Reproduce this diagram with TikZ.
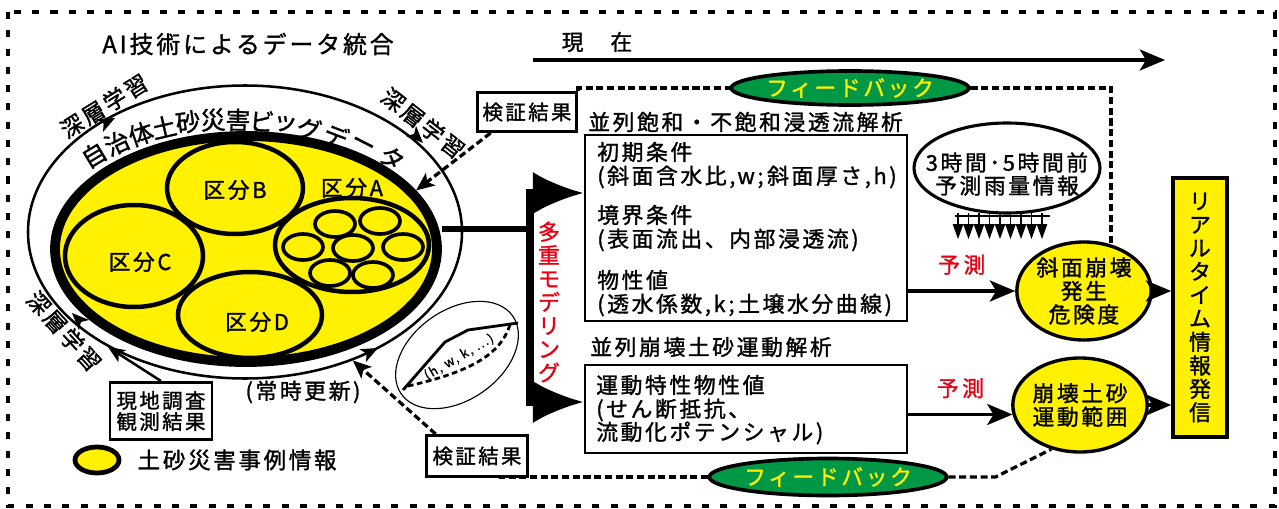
\documentclass[tikz,border=0pt]{standalone}
\usepackage{fontspec}
\setmainfont{Noto Sans CJK JP}[LetterSpace=12, FakeBold=1.3]
\usepackage{tikz}
\usetikzlibrary{shapes.geometric,arrows.meta,positioning,calc}

\definecolor{zoneyellow}{RGB}{255,241,0}
\definecolor{fbgreen}{RGB}{0,152,68}
\definecolor{modelred}{RGB}{230,0,18}

\newcommand{\fsz}[1]{\fontsize{#1}{#1}\selectfont}

\begin{document}
\begin{tikzpicture}[x=0.25mm,y=-0.25mm,
    zone/.style={ellipse, draw, fill=zoneyellow, line width=3.2pt, inner sep=0pt},
    cell/.style={ellipse, draw, fill=zoneyellow, line width=2.6pt, inner sep=0pt,
      minimum width=10mm, minimum height=6.5mm},
    plainbox/.style={draw, line width=2.1pt, fill=white, inner sep=0pt, align=center},
    result/.style={ellipse, draw, fill=zoneyellow, line width=2.4pt, inner sep=0pt,
      align=center, font=\fontsize{15.5}{16.7}\selectfont},
    fbnode/.style={ellipse, draw, fill=fbgreen, text=zoneyellow, line width=2.6pt,
      inner sep=0pt, font=\fsz{15.5}},
    txt/.style={anchor=west, inner sep=0pt, font=\fsz{15.5}},
    fbline/.style={line width=2.3pt, dash pattern=on 5pt off 2.6pt},
    arr/.style={line width=2.2pt, -{Stealth[length=18pt,width=15pt,inset=4.5pt]}},
    dasharr/.style={fbline, -{Stealth[length=13pt,width=11pt,inset=3pt]}},
    bigarr/.style={line width=4pt, -{Latex[length=36pt,width=30pt]}},
    ringtip/.style={line width=1.6pt, -{Stealth[length=12pt,width=10pt,inset=3pt]}},
  ]
  \useasboundingbox (0,0) rectangle (1279,509);
  \draw[line width=2.8pt, dash pattern=on 5pt off 8pt] (8,12) rectangle (1275,506);

  % AI data integration
  \node[font=\fsz{17}] (title) at (248,44) {AI技術によるデータ統合};
  \node[ellipse, draw, line width=1.8pt, inner sep=0pt,
    minimum width=108.5mm, minimum height=73.25mm] (outer) at (245,232) {};
  \node[ellipse, fill=zoneyellow, inner sep=0pt,
    minimum width=95.5mm, minimum height=56.5mm] (bigdata) at (246,249) {};
  \node[zone, minimum width=34.5mm, minimum height=25.5mm] (zoneC) at (134,256) {};
  \node[zone, minimum width=34mm, minimum height=23mm] (zoneB) at (235,188) {};
  \node[zone, minimum width=36mm, minimum height=21.5mm] (zoneD) at (250,315) {};
  \node[zone, minimum width=38.5mm, minimum height=23.5mm] (zoneA) at (352,245) {};
  \node[ellipse, draw, line width=7pt, inner sep=0pt,
    minimum width=95.5mm, minimum height=56.5mm] (rim) at (bigdata) {};
  \foreach \x/\y [count=\i] in {335/224,380/221,303/247,353/248,403/247,330/273,373/275}
    \node[cell] (cell\i) at (\x,\y) {};

  \node[font=\fsz{15.5}] (labA) at (352,188) {区分A};
  \node[font=\fsz{15.5}] (labB) at (235,190) {区分B};
  \node[font=\fsz{15.5}] (labC) at (140,262) {区分C};
  \node[font=\fsz{15.5}] (labD) at (257,322) {区分D};

  % text along the rim
  \foreach \x/\y/\r/\c [count=\i] in {94/155/31/自,117/143/25/治,141/134/19/体,
      164/127/13/土,188/122/8/砂,213/120/3/災,238/120/-1/害,262/121/-5/ビ,
      285/124/-10/ッ,309/129/-15/グ,336/136/-21/デ,362/146/-27/ー,392/158/-34/タ}
    \node[rotate=\r, inner sep=0pt, font=\fsz{17.5}] (arc\i) at (\x,\y) {\c};

  % learning loop
  \draw[ringtip] (111,120) -- (115,118);
  \draw[ringtip] (420,140) -- (423,143);
  \draw[ringtip] (75,316) -- (72,313);
  \draw[ringtip] (374,350) -- (378,348);
  \node[rotate=32, font=\fsz{16}] (learn1) at (104,106) {深層学習};
  \node[rotate=-38, font=\fsz{16}] (learn2) at (423,123) {深層学習};
  \node[rotate=-48, font=\fsz{16}] (learn3) at (64,331) {深層学習};

  \node[plainbox, minimum width=25.5mm, minimum height=14.25mm,
    font=\fontsize{14.5}{15}\selectfont] (field) at (161,411) {現地調査\\観測結果};
  \draw[ringtip, line width=1.8pt] (field.north) -- (outer.220);

  \node[ellipse, draw, fill=zoneyellow, line width=3.4pt, inner sep=0pt,
    minimum width=11mm, minimum height=6.5mm] (legend) at (97,460) {};
  \node[txt, right=4mm of legend, font=\fsz{16}] (legendtxt) {土砂災害事例情報};

  \node[font=\fsz{15.5}] (always) at (303,392) {(常時更新)};

  % small curve sketch
  \node[ellipse, draw, line width=0.8pt, rotate=35, inner sep=0pt,
    minimum width=34mm, minimum height=22.5mm] (sketch) at (457,355) {};
  \draw[line width=2pt] (403,390) -- (445,342) -- (468,330) -- (518,323);
  \draw[line width=2pt, dash pattern=on 4pt off 2.5pt]
    (408,386) .. controls (470,372) and (500,355) .. (510,325);
  \node[rotate=30, inner sep=0pt, font=\fsz{9}] (hwk) at (459,357) {(h, w, k, ...)};

  % verification and feedback
  \node[plainbox, minimum width=24.75mm, minimum height=9.75mm, font=\fsz{14.5}]
    (verifyA) at (527,112) {検証結果};
  \node[plainbox, minimum width=25.25mm, minimum height=10.25mm, font=\fsz{14.5}]
    (verifyB) at (477,456) {検証結果};
  \node[fbnode, minimum width=47.5mm, minimum height=8.5mm] (fbtop) at (850,88) {フィードバック};
  \node[fbnode, minimum width=45.5mm, minimum height=9.25mm] (fbbot) at (828,477) {フィードバック};

  % present
  \coordinate (now0) at (533,60);
  \coordinate (now1) at (1165,60);
  \draw[arr] (now0) -- (now1);
  \node[font=\fsz{15.5}] (nowlabel) at (597,42) {現　在};

  % analyses
  \node[plainbox, minimum width=80.5mm, minimum height=46.5mm] (seep) at (746,228) {};
  \node[txt, font=\fsz{15.5}] (seeptitle) at (588,122) {並列飽和・不飽和浸透流解析};
  \node[txt] (cond1) at (597,152) {初期条件};
  \node[txt] (cond2) at (597,177) {(斜面含水比,w;\,斜面厚さ,h)};
  \node[txt] (cond3) at (597,215) {境界条件};
  \node[txt] (cond4) at (597,240) {(表面流出、内部浸透流)};
  \node[txt] (cond5) at (597,280) {物性値};
  \node[txt] (cond6) at (597,305) {(透水係数,k;\,土壌水分曲線)};

  \node[plainbox, minimum width=80.5mm, minimum height=22mm] (motion) at (746,409) {};
  \node[txt] (mottitle) at (590,347) {並列崩壊土砂運動解析};
  \node[txt] (mot1) at (596,385) {運動特性物性値};
  \node[txt] (mot2) at (596,410) {(せん断抵抗、};
  \node[txt] (mot3) at (596,433) {流動化ポテンシャル)};

  % multiple modelling
  \coordinate (hub) at (530,229);
  \coordinate (mtop) at (530,193);
  \coordinate (mbot) at (530,402);
  \draw[line width=4pt] (hub) -- (hub -| rim.east);
  \draw[line width=5pt] ($(mtop)+(0,-4)$) -- ($(mbot)+(0,4)$);
  \draw[bigarr] (mtop) -- (mtop -| seep.west);
  \draw[bigarr] (mbot) -- (mbot -| motion.west);
  \node[text=modelred, align=center, inner sep=0pt,
    font=\fontsize{15.5}{16.7}\selectfont] (multi) at (549,302) {多\\重\\モ\\デ\\リ\\ン\\グ};

  % rainfall
  \node[ellipse, draw, line width=2.2pt, inner sep=0pt,
    minimum width=46.5mm, minimum height=22.5mm] (rain) at (1007,168) {};
  \node[align=center, inner sep=0pt, font=\fontsize{15.5}{16.4}\selectfont]
    (raintxt) at (1007,174) {3時間･5時間前\\予測雨量情報};
  \draw[line width=0.8pt] (955,216) -- (1050,216);
  \foreach \i in {0,...,8} {
    \draw[line width=0.8pt] ({958+\i*10.5},213) -- ({958+\i*10.5},227);
    \fill ({952.6+\i*10.5},224) -- ({963.4+\i*10.5},224) -- ({958+\i*10.5},239) -- cycle;
  }

  % results
  \node[result, minimum width=30.5mm, minimum height=24.5mm] (slope) at (1084,291)
    {斜面崩壊\\発生\\危険度};
  \node[result, minimum width=28.75mm, minimum height=23.5mm] (debris) at (1080,405)
    {崩壊土砂\\運動範囲};
  \node[draw, fill=zoneyellow, line width=2.6pt, inner sep=0pt, align=center,
    minimum width=13.5mm, minimum height=64.75mm,
    font=\fontsize{15.5}{16.7}\selectfont] (realtime) at (1200,307.5)
    {リ\\ア\\ル\\タ\\イ\\ム\\情\\報\\発\\信};

  \draw[arr] (seep.east |- slope.west) -- (slope.west)
    node[midway, above=2.5mm, text=modelred, font=\fsz{15.5}] (pred1) {予\,測};
  \draw[arr] (motion.east |- debris.188) -- (debris.188)
    node[midway, above=2.5mm, text=modelred, font=\fsz{15.5}] (pred2) {予\,測};
  \draw[arr] (slope.east) -- (realtime.west |- slope.east);
  \draw[arr] (debris.east) -- (realtime.west |- debris.east);

  % dashed links
  \draw[fbline] (verifyA.north east) |- (fbtop.west);
  \draw[dasharr] (verifyA.210) -- (rim.19);
  \draw[fbline] (fbtop.east) -| (slope.60);
  \draw[dasharr] (verifyB.152) -- (outer.-50);
  \draw[fbline] (verifyB.-45) |- (fbbot.west);
  \draw[fbline] (fbbot.east) -- ++(47,0) -- (debris.237);
\end{tikzpicture}
\end{document}
